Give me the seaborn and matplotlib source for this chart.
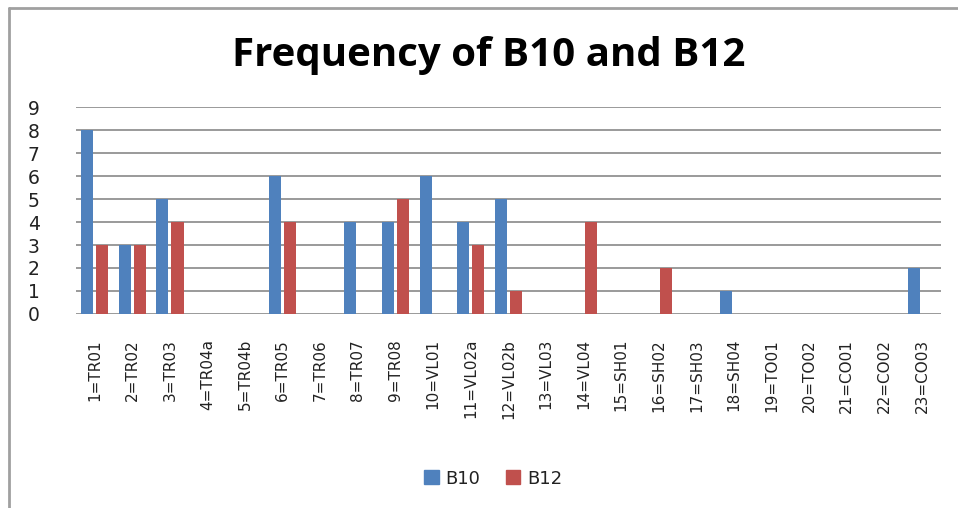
import pandas as pd
import matplotlib
matplotlib.use("Agg")
import matplotlib.pyplot as plt
import seaborn as sns
from matplotlib.lines import Line2D

sites = ["1=TR01", "2=TR02", "3=TR03", "4=TR04a", "5=TR04b", "6=TR05", "7=TR06",
         "8=TR07", "9=TR08", "10=VL01", "11=VL02a", "12=VL02b", "13=VL03", "14=VL04",
         "15=SH01", "16=SH02", "17=SH03", "18=SH04", "19=TO01", "20=TO02", "21=CO01",
         "22=CO02", "23=CO03"]
b10 = [8, 3, 5, 0, 0, 6, 0, 4, 4, 6, 4, 5, 0, 0, 0, 0, 0, 1, 0, 0, 0, 0, 2]
b12 = [3, 3, 4, 0, 0, 4, 0, 0, 5, 0, 3, 1, 0, 4, 0, 2, 0, 0, 0, 0, 0, 0, 0]
series = ["B10", "B12"]
colors = ["#4F81BD", "#C0504D"]

df = pd.DataFrame({"site": sites * 2,
                   "count": b10 + b12,
                   "series": [series[0]] * len(sites) + [series[1]] * len(sites)})

sns.set_style("white")
plt.rcParams["font.family"] = ["DejaVu Sans"]

fig = plt.figure(figsize=(9.58, 5.08), dpi=100)
ax = fig.add_axes([0.0793, 0.382, 0.9027, 0.407])

sns.barplot(data=df, x="site", y="count", hue="series", order=sites,
            hue_order=series, palette=colors, width=0.8, gap=0.2,
            saturation=1, legend=False, linewidth=0, ax=ax)

ax.set_ylim(0, 9)
ax.set_xlim(-0.5, len(sites) - 0.5)
ax.set_yticks(range(0, 10))
ax.yaxis.grid(True, color="#9a9a9a", linewidth=1.4)
ax.set_axisbelow(True)
for s in ["top", "right", "left", "bottom"]:
    ax.spines[s].set_visible(False)
ax.set_xlabel("")
ax.set_ylabel("")
ax.tick_params(axis="y", length=0, pad=26, labelsize=13.5, labelcolor="#222222")
ax.tick_params(axis="x", length=0, pad=18, labelsize=11, labelcolor="#222222")
plt.setp(ax.get_xticklabels(), rotation=90)

fig.suptitle("Frequency of B10 and B12", x=0.51, y=0.93, fontsize=29,
             fontweight="bold", family="Open Sans", color="black")

handles = [plt.Rectangle((0, 0), 1, 1, color=c) for c in colors]
fig.legend(handles, series, loc="center", bbox_to_anchor=(0.515, 0.058), ncol=2,
           frameon=False, fontsize=13, handlelength=0.8, handleheight=0.8,
           handletextpad=0.4, columnspacing=1.4, labelcolor="#222222")

# chart border (left and top edges visible)
fig.add_artist(Line2D([9 / 958, 9 / 958], [0, 1 - 8 / 508], color="#a0a0a0", lw=2))
fig.add_artist(Line2D([9 / 958, 1], [1 - 8 / 508, 1 - 8 / 508], color="#a0a0a0", lw=2))

fig.savefig("out.png", dpi=100)
